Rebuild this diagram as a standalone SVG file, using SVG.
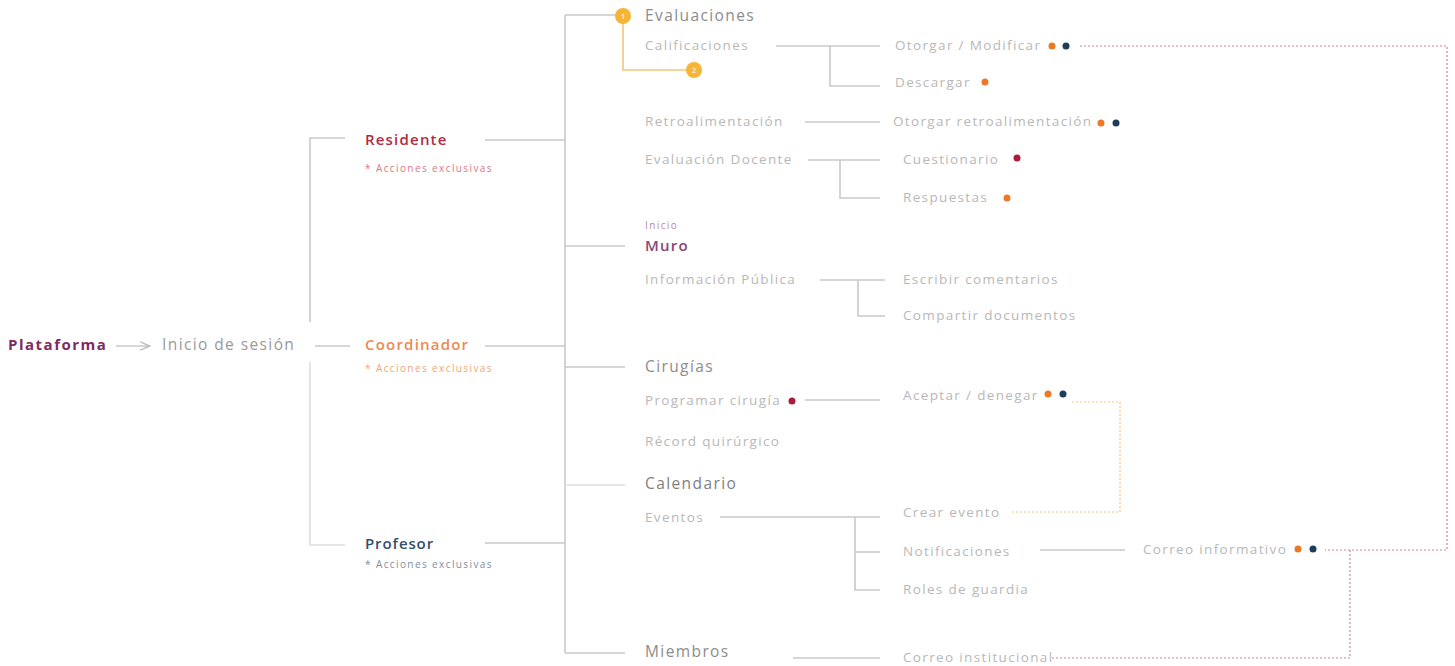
<svg xmlns="http://www.w3.org/2000/svg" width="1455" height="666" viewBox="0 0 1455 666">
<defs>
<style>
text{font-family:"Open Sans","Liberation Sans",sans-serif;dominant-baseline:middle}
.t{font-size:13.5px;fill:#b8b8b8;letter-spacing:1.35px}
.h{font-size:15.5px;fill:#8c8c8c;letter-spacing:1.4px}
.b{font-size:15px;font-weight:600;letter-spacing:1.2px}
.s{font-size:10px;letter-spacing:1.4px}
.ln{stroke:#c9c9c9;stroke-width:1.6;fill:none}
.ln2{stroke:#dedede;stroke-width:1.6;fill:none}
.dp{stroke:#c9879e;stroke-width:1.2;fill:none;stroke-dasharray:2 2}
.dy{stroke:#f3c77a;stroke-width:1.2;fill:none;stroke-dasharray:2 2}
.o{fill:#ea7a25}.n{fill:#1f3d58}.r{fill:#a81d3a}
.y{fill:#f6b534}
.yn{font-size:8px;fill:#fff;text-anchor:middle}
</style>
<marker id="ar" viewBox="0 0 8 8" refX="7" refY="4" markerWidth="7" markerHeight="7" orient="auto"><path d="M0,1 L7,4 L0,7" fill="none" stroke="#bdbdbd" stroke-width="1"/></marker>
</defs>
<rect width="1455" height="666" fill="#ffffff"/>
<g id="connectors">
<line class="ln" x1="116" y1="346" x2="150" y2="346" marker-end="url(#ar)"/>
<polyline class="ln" points="345,138 310,138 310,322"/>
<line class="ln" x1="315" y1="346" x2="350" y2="346"/>
<polyline class="ln2" points="310,362 310,545 345,545"/>
<line class="ln" x1="485" y1="140" x2="565" y2="140"/>
<line class="ln" x1="485" y1="346" x2="565" y2="346"/>
<line class="ln" x1="485" y1="543" x2="565" y2="543"/>
<line class="ln" x1="565" y1="15" x2="565" y2="653"/>
<line class="ln" x1="565" y1="15" x2="615" y2="15"/>
<line class="ln" x1="565" y1="246" x2="625" y2="246"/>
<line class="ln" x1="565" y1="367" x2="625" y2="367"/>
<line class="ln2" x1="565" y1="485" x2="625" y2="485"/>
<line class="ln" x1="565" y1="653" x2="625" y2="653"/>
<polyline points="623,16 623,70 694,70" fill="none" stroke="#f3c77a" stroke-width="1.6"/>
<line class="ln" x1="776" y1="46" x2="880" y2="46"/>
<polyline class="ln" points="830,46 830,86 880,86"/>
<line class="ln" x1="805" y1="122" x2="880" y2="122"/>
<line class="ln" x1="808" y1="160" x2="880" y2="160"/>
<polyline class="ln" points="840,160 840,198 880,198"/>
<line class="ln" x1="820" y1="280" x2="885" y2="280"/>
<polyline class="ln" points="858,280 858,316 885,316"/>
<line class="ln" x1="805" y1="400" x2="880" y2="400"/>
<line class="ln" x1="720" y1="517" x2="880" y2="517"/>
<polyline class="ln" points="855,517 855,590 880,590"/>
<line class="ln" x1="855" y1="552" x2="880" y2="552"/>
<line class="ln" x1="1040" y1="550" x2="1125" y2="550"/>
<line class="ln" x1="793" y1="658" x2="880" y2="658"/>
<polyline class="dp" points="1080,46 1447,46 1447,550 1325,550"/>
<polyline class="dp" points="1350,550 1350,658 1050,658"/>
<polyline class="dy" points="1072,402 1120,402 1120,512 1010,512"/>
</g>
<g id="plataforma"><text x="8" y="346" class="b" style="font-weight:700;letter-spacing:1.5px" fill="#7d2b63">Plataforma</text></g>
<g id="inicio-sesion"><text x="162" y="346" class="h" style="fill:#9a9a9a">Inicio de sesión</text></g>
<g id="residente"><text x="365" y="141" class="b" fill="#b02c45">Residente</text><text x="365" y="169" class="s" fill="#d9788a">* Acciones exclusivas</text></g>
<g id="coordinador"><text x="365" y="346" class="b" fill="#ec8a52">Coordinador</text><text x="365" y="369" class="s" fill="#f0a678">* Acciones exclusivas</text></g>
<g id="profesor"><text x="365" y="545" class="b" style="letter-spacing:0.9px" fill="#33506b">Profesor</text><text x="365" y="565" class="s" fill="#7c8fa3">* Acciones exclusivas</text></g>
<g id="evaluaciones"><circle class="y" cx="623" cy="16" r="8"/><text x="623" y="16.5" class="yn">1</text><text x="645" y="17" class="h">Evaluaciones</text></g>
<g id="calificaciones"><text x="645" y="46" class="t">Calificaciones</text><circle class="y" cx="694" cy="70" r="8"/><text x="694" y="70.5" class="yn">2</text></g>
<g id="otorgar-modificar"><text x="895" y="46" class="t">Otorgar / Modificar</text><circle class="o" cx="1052" cy="46" r="3.5"/><circle class="n" cx="1066" cy="46" r="3.5"/></g>
<g id="descargar"><text x="895" y="83" class="t">Descargar</text><circle class="o" cx="985" cy="82" r="3.5"/></g>
<g id="retroalimentacion"><text x="645" y="122" class="t">Retroalimentación</text></g>
<g id="otorgar-retro"><text x="893" y="122" class="t">Otorgar retroalimentación</text><circle class="o" cx="1101" cy="123" r="3.5"/><circle class="n" cx="1116" cy="123" r="3.5"/></g>
<g id="evaluacion-docente"><text x="645" y="160" class="t">Evaluación Docente</text></g>
<g id="cuestionario"><text x="903" y="160" class="t">Cuestionario</text><circle class="r" cx="1017" cy="158" r="3.5"/></g>
<g id="respuestas"><text x="903" y="198" class="t">Respuestas</text><circle class="o" cx="1007" cy="198" r="3.5"/></g>
<g id="muro"><text x="645" y="226" class="s" fill="#b98aa9">Inicio</text><text x="645" y="247" class="b" fill="#8a4677">Muro</text></g>
<g id="informacion-publica"><text x="645" y="280" class="t">Información Pública</text></g>
<g id="escribir-comentarios"><text x="903" y="280" class="t">Escribir comentarios</text></g>
<g id="compartir-documentos"><text x="903" y="316" class="t">Compartir documentos</text></g>
<g id="cirugias"><text x="645" y="368" class="h">Cirugías</text></g>
<g id="programar-cirugia"><text x="645" y="401" class="t">Programar cirugía</text><circle class="r" cx="792" cy="401" r="3.5"/></g>
<g id="aceptar-denegar"><text x="903" y="396" class="t">Aceptar / denegar</text><circle class="o" cx="1048" cy="394" r="3.5"/><circle class="n" cx="1063" cy="394" r="3.5"/></g>
<g id="record-quirurgico"><text x="645" y="442" class="t">Récord quirúrgico</text></g>
<g id="calendario"><text x="645" y="485" class="h" style="fill:#7f7f7f">Calendario</text></g>
<g id="eventos"><text x="645" y="518" class="t">Eventos</text></g>
<g id="crear-evento"><text x="903" y="513" class="t">Crear evento</text></g>
<g id="notificaciones"><text x="903" y="552" class="t">Notificaciones</text></g>
<g id="roles-guardia"><text x="903" y="590" class="t">Roles de guardia</text></g>
<g id="correo-informativo"><text x="1143" y="550" class="t">Correo informativo</text><circle class="o" cx="1298" cy="549" r="3.5"/><circle class="n" cx="1313" cy="549" r="3.5"/></g>
<g id="miembros"><text x="645" y="653" class="h">Miembros</text></g>
<g id="correo-institucional"><text x="903" y="658" class="t">Correo institucional</text></g>
</svg>
